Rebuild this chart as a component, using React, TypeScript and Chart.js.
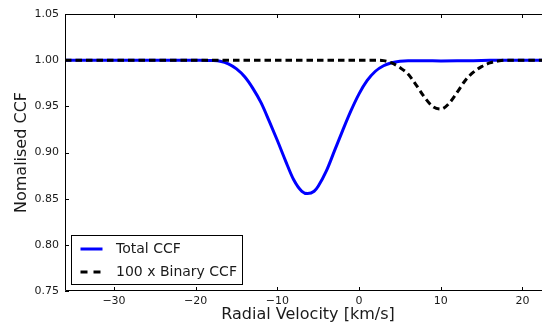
import React, { useEffect, useRef } from 'react';
import { Chart, registerables } from 'chart.js';

Chart.register(...registerables);

// ---- data ----
const totalVelocity = [-36, -30, -24, -20, -18, -17, -16, -15, -14, -13, -12, -11, -10, -9, -8, -7, -6.3, -5.5, -5, -4, -3, -2, -1, 0, 1, 2, 3, 4, 5, 6, 8, 10, 12, 14, 16, 18, 20, 24];
const totalCCF = [1.0, 1.0, 1.0, 0.9999, 0.9996, 0.9988, 0.996, 0.9905, 0.982, 0.9695, 0.954, 0.934, 0.913, 0.891, 0.8705, 0.858, 0.8555, 0.858, 0.8635, 0.88, 0.902, 0.924, 0.945, 0.9635, 0.978, 0.988, 0.994, 0.9972, 0.9988, 0.9993, 0.9993, 0.9992, 0.9993, 0.9995, 0.9998, 1.0, 1.0, 1.0];

const binaryVelocity = [-36, -20, 0, 2, 3, 4, 5, 6, 7, 8, 9, 10, 11, 12, 13, 14, 15, 16, 17, 18, 24];
const binaryCCF = [1.0, 1.0, 1.0, 1.0, 0.9995, 0.997, 0.992, 0.985, 0.973, 0.96, 0.95, 0.947, 0.953, 0.965, 0.978, 0.987, 0.993, 0.997, 0.999, 1.0, 1.0];

const seriesLabels = ['Total CCF', '100 x Binary CCF'];
const xTicks = [-30, -20, -10, 0, 10, 20];
const yTicks = [0.75, 0.8, 0.85, 0.9, 0.95, 1.0, 1.05];
const xTitle = 'Radial Velocity [km/s]';
const yTitle = 'Nomalised CCF';
const X_MIN = -36;
const X_MAX = 23.5;
const Y_MIN = 0.75;
const Y_MAX = 1.05;

const FONT = 'DejaVu Sans';
const TEXT = '#1a1a1a';
const BLUE = '#0000ff';

const fmtX = (v: number) => (v < 0 ? '\u2212' + Math.abs(v) : String(v));

const framePlugin = {
  id: 'mplFrame',
  afterDatasetsDraw(chart: any) {
    const { ctx, chartArea: a, scales } = chart;
    const xs = scales.x;
    const ys = scales.y;
    ctx.save();
    ctx.strokeStyle = '#000';
    ctx.lineWidth = 1;
    ctx.beginPath();
    ctx.rect(a.left + 0.5, a.top + 0.5, a.right - a.left - 1, a.bottom - a.top - 1);
    ctx.stroke();
    const tl = 4;
    ctx.beginPath();
    xTicks.forEach((v) => {
      const px = Math.round(xs.getPixelForValue(v)) + 0.5;
      ctx.moveTo(px, a.bottom);
      ctx.lineTo(px, a.bottom - tl);
      ctx.moveTo(px, a.top);
      ctx.lineTo(px, a.top + tl);
    });
    yTicks.forEach((v) => {
      const py = Math.round(ys.getPixelForValue(v)) + 0.5;
      ctx.moveTo(a.left, py);
      ctx.lineTo(a.left + tl, py);
      ctx.moveTo(a.right, py);
      ctx.lineTo(a.right - tl, py);
    });
    ctx.stroke();
    ctx.restore();
  },
  afterDraw(chart: any) {
    const { ctx, chartArea: a } = chart;
    const bx = a.left + 6.5;
    const by = a.top + 221.5;
    const bw = 171;
    const bh = 49;
    ctx.save();
    ctx.fillStyle = '#fff';
    ctx.fillRect(bx, by, bw, bh);
    ctx.strokeStyle = '#000';
    ctx.lineWidth = 1;
    ctx.strokeRect(bx, by, bw, bh);
    const datasets = chart.data.datasets;
    const rows = [by + 13.5, by + 36.5];
    datasets.forEach((ds: any, i: number) => {
      const y = rows[i];
      ctx.beginPath();
      ctx.strokeStyle = ds.borderColor;
      ctx.lineWidth = ds.borderWidth;
      ctx.setLineDash(i === 1 ? [7, 6] : []);
      ctx.moveTo(bx + 9, y);
      ctx.lineTo(bx + 31, y);
      ctx.stroke();
      ctx.setLineDash([]);
      ctx.fillStyle = TEXT;
      ctx.font = `14px "${FONT}"`;
      ctx.textBaseline = 'middle';
      ctx.textAlign = 'left';
      ctx.fillText(ds.label, bx + 44.5, y);
    });
    ctx.restore();
  },
};

export default function App() {
  const ref = useRef<HTMLCanvasElement | null>(null);

  useEffect(() => {
    if (!ref.current) return;
    const chart = new Chart(ref.current, {
      type: 'line',
      data: {
        datasets: [
          {
            label: seriesLabels[0],
            data: totalVelocity.map((v, i) => ({ x: v, y: totalCCF[i] })),
            borderColor: BLUE,
            borderWidth: 3,
            pointRadius: 0,
            cubicInterpolationMode: 'monotone',
            fill: false,
            order: 1,
          },
          {
            label: seriesLabels[1],
            data: binaryVelocity.map((v, i) => ({ x: v, y: binaryCCF[i] })),
            borderColor: '#000000',
            borderWidth: 3,
            borderDash: [6.5, 4],
            pointRadius: 0,
            cubicInterpolationMode: 'monotone',
            fill: false,
            order: 0,
          },
        ],
      },
      options: {
        animation: false,
        responsive: false,
        devicePixelRatio: 1,
        layout: { padding: { top: 14, right: 1, left: 0, bottom: 0 } },
        plugins: { legend: { display: false }, tooltip: { enabled: false } },
        scales: {
          x: {
            type: 'linear',
            min: X_MIN,
            max: X_MAX,
            offset: false,
            afterBuildTicks: (s: any) => {
              s.ticks = xTicks.map((v) => ({ value: v }));
            },
            afterFit: (s: any) => {
              s.height = 35;
            },
            grid: { display: false, drawTicks: false },
            border: { display: false },
            ticks: {
              font: { family: FONT, size: 11 },
              color: TEXT,
              padding: 4,
              maxRotation: 0,
              autoSkip: false,
              callback: (v: any) => fmtX(Number(v)),
            },
            title: {
              display: true,
              text: xTitle,
              font: { family: FONT, size: 16 },
              color: TEXT,
              padding: { top: 0, bottom: 2 },
            },
          },
          y: {
            type: 'linear',
            min: Y_MIN,
            max: Y_MAX,
            afterBuildTicks: (s: any) => {
              s.ticks = yTicks.map((v) => ({ value: v }));
            },
            afterFit: (s: any) => {
              s.width = 65;
            },
            grid: { display: false, drawTicks: false },
            border: { display: false },
            ticks: {
              font: { family: FONT, size: 11 },
              color: TEXT,
              padding: 6,
              autoSkip: false,
              callback: (v: any) => Number(v).toFixed(2),
            },
            title: {
              display: true,
              text: yTitle,
              font: { family: FONT, size: 16 },
              color: TEXT,
              padding: { top: 12, bottom: 0 },
            },
          },
        },
      } as any,
      plugins: [framePlugin],
    });
    return () => chart.destroy();
  }, []);

  return (
    <div
      style={{
        position: 'fixed',
        left: 0,
        top: 0,
        width: 542,
        height: 326,
        overflow: 'hidden',
        background: '#fff',
      }}
    >
      <canvas ref={ref} width={552} height={326} style={{ display: 'block', width: 552, height: 326 }} />
    </div>
  );
}
